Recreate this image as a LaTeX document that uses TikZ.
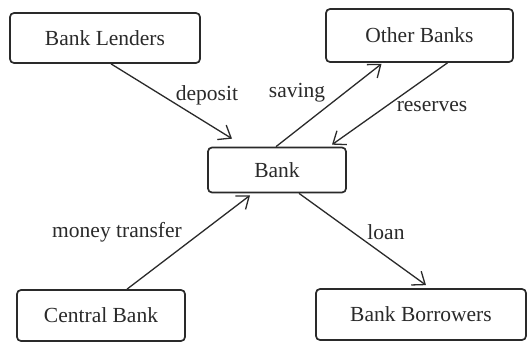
\documentclass[tikz,border=0pt]{standalone}
\usepackage{fontspec}
\newfontfamily\diagfont{LiberationSerif-Regular.ttf}
\usetikzlibrary{arrows.meta,calc}
\definecolor{ink}{HTML}{2A2A2A}
\begin{document}
\begin{tikzpicture}[x=1pt,y=-1pt,
  font=\diagfont\fontsize{21.5}{24}\selectfont,
  box/.style={draw=ink,text=ink,line width=1.7pt,rounded corners=4pt,
    inner sep=0pt,anchor=center},
  flow/.style={draw=ink,line width=1.3pt,
    -{Straight Barb[length=11pt,width=17pt,line width=1.3pt]}},
  tag/.style={text=ink,inner sep=0pt,anchor=center}]
\useasboundingbox (0,0) rectangle (528,343);
\fill[white] (0,0) rectangle (528,343);

% parties
\node[box,minimum width=190pt,minimum height=50pt] (lenders) at (105,38) {Bank Lenders};
\node[box,minimum width=187pt,minimum height=53pt] (other) at (419.5,35.5) {Other Banks};
\node[box,minimum width=138pt,minimum height=45pt] (bank) at (277,170) {Bank};
\node[box,minimum width=168pt,minimum height=51pt] (central) at (101,315.5) {Central Bank};
\node[box,minimum width=210pt,minimum height=51pt] (borrowers) at (421,314.5) {Bank Borrowers};

% flows
\draw[flow] ($(lenders.south)+(6,0)$) -- ($(bank.north)+(-45,-8)$);
\draw[flow] ($(bank.north)+(-1,0)$) -- ($(other.south)+(-38,1)$);
\draw[flow] ($(other.south)+(28,0)$) -- ($(bank.north)+(55,-2)$);
\draw[flow] ($(central.north)+(26,0)$) -- ($(bank.south)+(-27,2)$);
\draw[flow] ($(bank.south)+(22,0)$) -- ($(borrowers.north)+(5,-3)$);

% flow labels
\node[tag] (tdeposit) at (207,95) {deposit};
\node[tag] (tsaving) at (297,93) {saving};
\node[tag] (treserves) at (432,107) {reserves};
\node[tag] (tmoney) at (117,232) {money transfer};
\node[tag] (tloan) at (386,232) {loan};
\end{tikzpicture}
\end{document}
